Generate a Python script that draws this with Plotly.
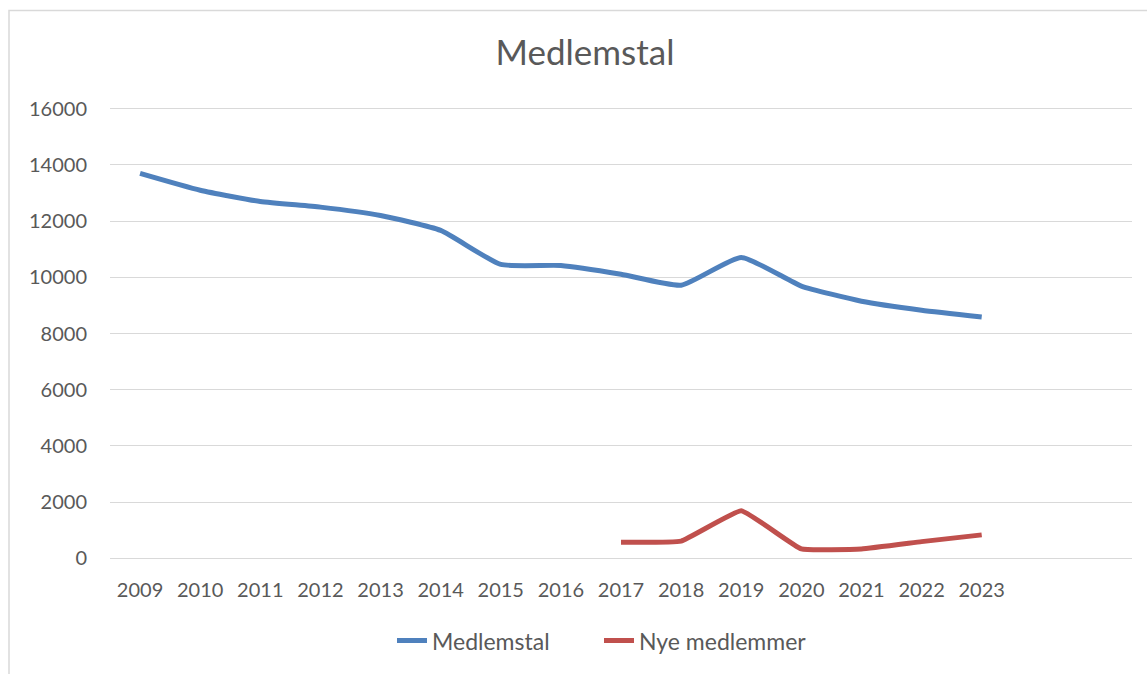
import plotly.graph_objects as go

years = list(range(2009, 2024))
medlemstal = [13700, 13100, 12700, 12500, 12200, 11670, 10460, 10420, 10110, 9720, 10710, 9690, 9150, 8830, 8590]
nye_years = [2017, 2018, 2019, 2020, 2021, 2022, 2023]
nye_medlemmer = [570, 610, 1690, 330, 330, 590, 830]
y_ticks = [0, 2000, 4000, 6000, 8000, 10000, 12000, 14000, 16000]

font_family = "Lato, 'Open Sans', sans-serif"
grey = "#595959"

W, H = 1147, 674
ML, MR, MT, MB = 110, 15, 106, 111
pw = W - ML - MR
ph = H - MT - MB

def px_x(p):
    return (p - ML) / pw

def px_y(p):
    return (H - MB - p) / ph

fig = go.Figure()
fig.add_trace(go.Scatter(x=years, y=medlemstal, mode="lines", name="Medlemstal", legend="legend",
                         line=dict(color="#4f81bd", width=5, shape="spline", smoothing=0.5)))
fig.add_trace(go.Scatter(x=nye_years, y=nye_medlemmer, mode="lines", name="Nye medlemmer", legend="legend2",
                         line=dict(color="#c0504d", width=5, shape="spline", smoothing=0.3)))

leg_common = dict(orientation="h", yanchor="middle", y=px_y(643), xanchor="left",
                  font=dict(size=23, color=grey), bgcolor="rgba(0,0,0,0)", borderwidth=0)

fig.update_layout(
    width=W, height=H,
    margin=dict(l=ML, r=MR, t=MT, b=MB),
    paper_bgcolor="white", plot_bgcolor="white",
    font=dict(family=font_family, color=grey, size=20),
    title=dict(text="Medlemstal", x=0.51, xanchor="center", y=0.921, yanchor="middle",
               font=dict(size=35, color=grey, family=font_family)),
    showlegend=True,
    legend=dict(x=px_x(392), **leg_common),
    legend2=dict(x=px_x(599), **leg_common),
    shapes=[dict(type="rect", xref="paper", yref="paper",
                 x0=px_x(9), x1=px_x(1160), y0=px_y(690), y1=px_y(10),
                 line=dict(color="#d9d9d9", width=1.5), layer="below")],
)
fig.update_xaxes(range=[2008.5, 2025.5], tickvals=years, ticktext=[str(y) for y in years],
                 showgrid=False, zeroline=False, showline=False, ticks="",
                 tickfont=dict(size=20, color=grey), ticklabelstandoff=15)
fig.update_yaxes(range=[-100, 16100], tickvals=y_ticks, ticktext=[str(v) for v in y_ticks],
                 showgrid=True, gridcolor="#d9d9d9",
                 gridwidth=1.2, zeroline=False, showline=False, ticks="",
                 tickfont=dict(size=20, color=grey), ticklabelstandoff=22)

fig.write_html("out.html", config={"displayModeBar": False},
               post_script="document.body.style.margin='0';")
